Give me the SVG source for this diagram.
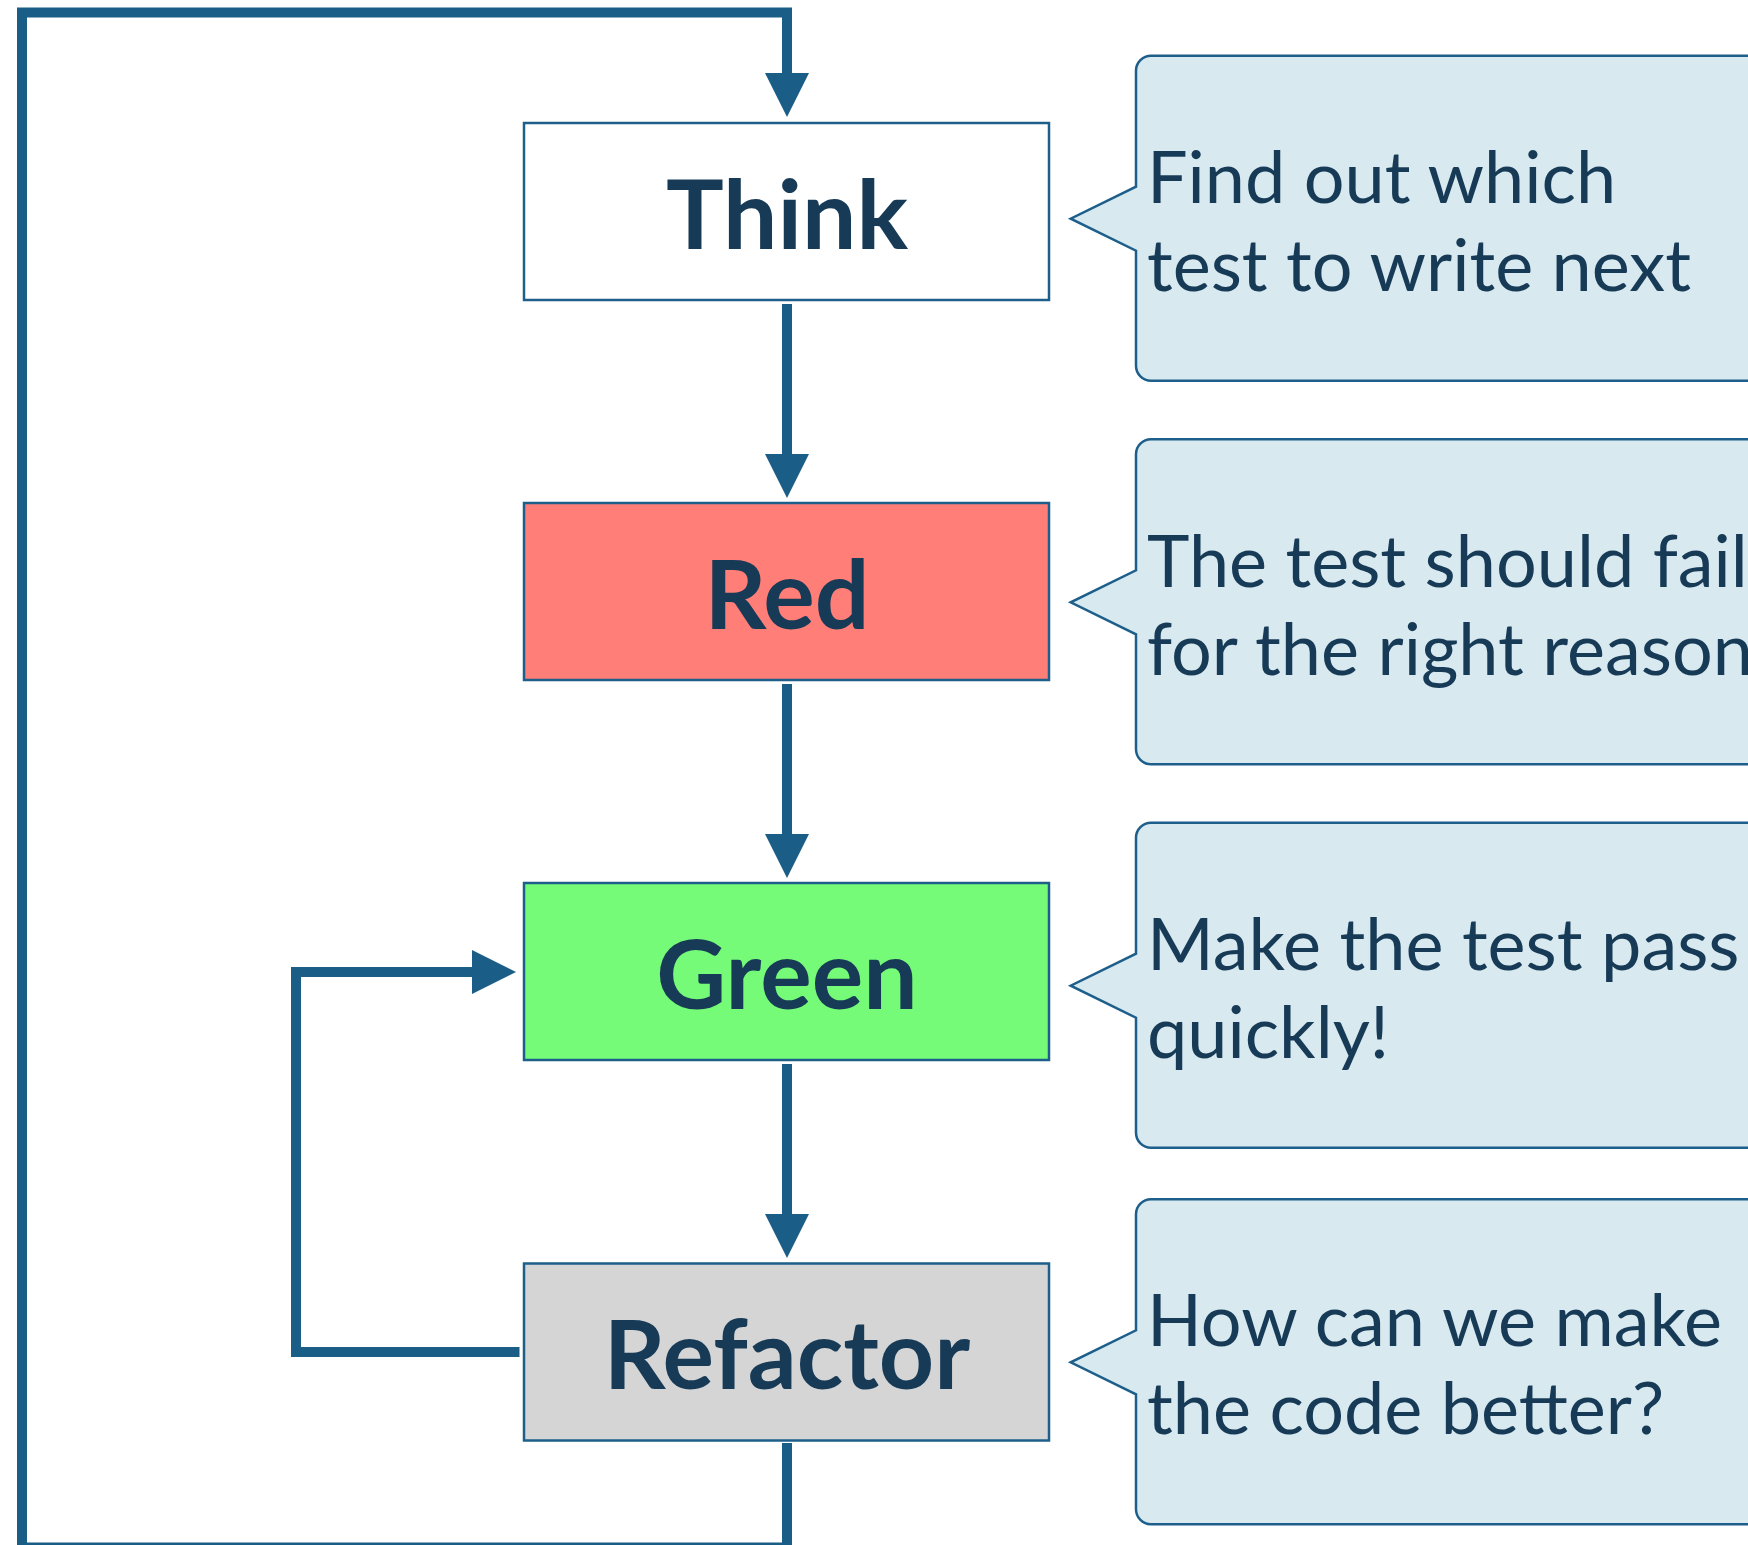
<svg xmlns="http://www.w3.org/2000/svg" width="1748" height="1545" viewBox="0 0 1748 1545">
<style>
.box{stroke:#1d5f8a;stroke-width:2.5}
.lbl{font-family:Lato,"Liberation Sans",sans-serif;font-weight:bold;font-size:96.5px;fill:#173a56;text-anchor:middle}
.call{fill:#d8eaf0;stroke:#1d5f8a;stroke-width:2.5}
.ctext{font-family:Lato,"Liberation Sans",sans-serif;font-size:72px;fill:#173a56}
.conn{fill:none;stroke:#1a5e87;stroke-width:10;stroke-linejoin:miter}
</style>
<defs>
<marker id="ah" markerUnits="userSpaceOnUse" viewBox="0 -22 44 44" markerWidth="44" markerHeight="44" refX="0" refY="0" orient="auto" overflow="visible">
<path d="M0,-22 L44,0 L0,22 z" fill="#1a5e87"/>
</marker>
</defs>
<rect width="1748" height="1545" fill="#ffffff"/>
<g id="connectors">
<path class="conn" d="M787,304 V454" marker-end="url(#ah)"/>
<path class="conn" d="M787,684 V834" marker-end="url(#ah)"/>
<path class="conn" d="M787,1064 V1214" marker-end="url(#ah)"/>
<path class="conn" d="M519.5,1352 H296 V972 H472" marker-end="url(#ah)"/>
<path class="conn" d="M787,1443 V1547.5 H22 V12.5 H787 V73" marker-end="url(#ah)"/>
</g>
<g id="think">
<rect class="box" x="524" y="123" width="525" height="177" fill="#ffffff"/>
<text class="lbl" x="787" y="248.5">Think</text>
</g>
<g id="red">
<rect class="box" x="524" y="503" width="525" height="177" fill="#ff7f78"/>
<text class="lbl" x="787" y="628.5">Red</text>
</g>
<g id="green">
<rect class="box" x="524" y="883" width="525" height="177" fill="#75fb78"/>
<text class="lbl" x="787" y="1008.5">Green</text>
</g>
<g id="refactor">
<rect class="box" x="524" y="1263.5" width="525" height="177" fill="#d5d5d5"/>
<text class="lbl" x="787" y="1389">Refactor</text>
</g>
<g id="note-think">
<path class="call" d="M1151,55.7 H1800 V380.7 H1151 A15,15 0 0 1 1136,365.7 V250.7 L1070.7,218.7 L1136,186.7 V70.7 A15,15 0 0 1 1151,55.7 z"/>
<text class="ctext" x="1147" y="203.2">Find out which</text>
<text class="ctext" x="1147" y="291.2">test to write next</text>
</g>
<g id="note-red">
<path class="call" d="M1151,439.3 H1800 V764.3 H1151 A15,15 0 0 1 1136,749.3 V634.3 L1070.7,602.3 L1136,570.3 V454.3 A15,15 0 0 1 1151,439.3 z"/>
<text class="ctext" x="1147" y="587">The test should fail</text>
<text class="ctext" x="1147" y="675">for the right reason</text>
</g>
<g id="note-green">
<path class="call" d="M1151,822.7 H1800 V1147.7 H1151 A15,15 0 0 1 1136,1132.7 V1017.7 L1070.7,985.7 L1136,953.7 V837.7 A15,15 0 0 1 1151,822.7 z"/>
<text class="ctext" x="1147" y="969.5">Make the test pass</text>
<text class="ctext" x="1147" y="1057.5">quickly!</text>
</g>
<g id="note-refactor">
<path class="call" d="M1151,1199.3 H1800 V1524.3 H1151 A15,15 0 0 1 1136,1509.3 V1394.3 L1070.7,1362.3 L1136,1330.3 V1214.3 A15,15 0 0 1 1151,1199.3 z"/>
<text class="ctext" x="1147" y="1346">How can we make</text>
<text class="ctext" x="1147" y="1434">the code better?</text>
</g>
</svg>
